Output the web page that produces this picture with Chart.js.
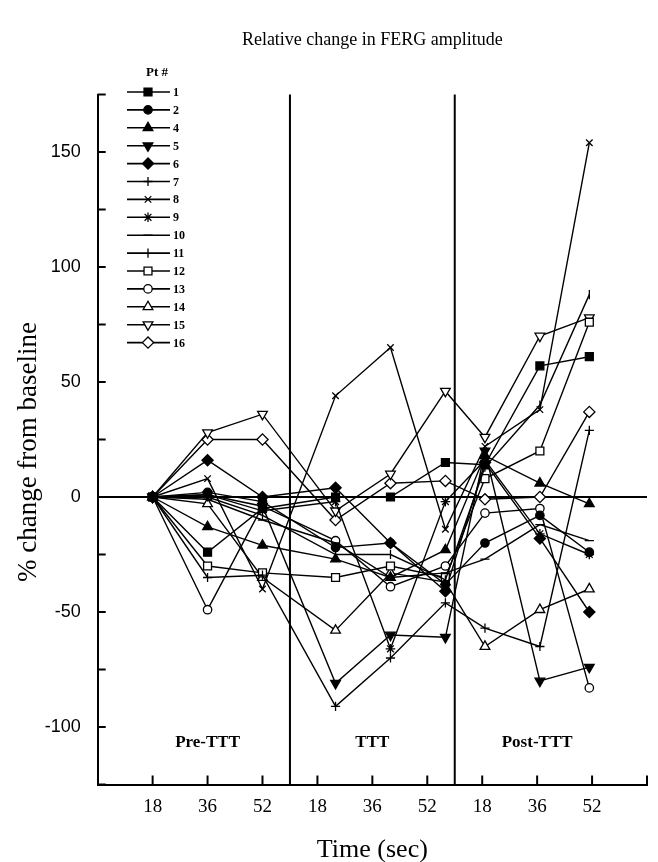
<!DOCTYPE html>
<html>
<head>
<meta charset="utf-8">
<script src="https://cdn.jsdelivr.net/npm/chart.js@4.4.0/dist/chart.umd.min.js"></script>
<style>
  html, body { margin: 0; padding: 0; background: #fff; }
  canvas { display: block; }
</style>
</head>
<body>
<canvas id="fergChart" width="658" height="862"></canvas>
<script>
// time axis: three samples in each period
const periods = ['Pre-TTT', 'TTT', 'Post-TTT'];
const timeLabels = ['18', '36', '52', '18', '36', '52', '18', '36', '52'];
const tickSlots = [1, 2, 3, 4, 5, 6, 7, 8, 9, 10];
const samplePos = [1, 2, 3, 4.33, 5.33, 6.33, 7.05, 8.05, 8.95]; // where the samples sit on the time axis
const periodBreaks = [3.5, 6.5];
const periodCentres = [2, 5, 8];
const yTicks = [-100, -50, 0, 50, 100, 150];

// % change from baseline, one array per patient
const patients = ['1', '2', '4', '5', '6', '7', '8', '9', '10', '11', '12', '13', '14', '15', '16'];
const pt1  = [0, -24,  -5,   0,   0,  15,  14,  57,  61];
const pt2  = [0,   2,  -2, -22, -20, -38, -20,  -8, -24];
const pt4  = [0, -13, -21, -27, -35, -23,  18,   6,  -3];
const pt5  = [0,   1,  -4, -81, -60, -61,  20, -80, -74];
const pt6  = [0,  16,   0,   4, -20, -41,  15, -18, -50];
const pt7  = [0, -35, -34, -91, -70, -46, -57, -65,  29];
const pt8  = [0,   8, -40,  44,  65, -14,  22,  38, 154];
const pt9  = [0,   1,  -6,  -2, -66,  -2,  16, -16, -25];
const pt10 = [0,  -1, -10, -20, -35, -33, -27, -12, -19];
const pt11 = [0,   0,  -8, -25, -25, -36,  13,  40,  88];
const pt12 = [0, -30, -33, -35, -30, -35,   8,  20,  76];
const pt13 = [0, -49,  -4, -19, -39, -30,  -7,  -5, -83];
const pt14 = [0,  -3, -35, -58, -33, -37, -65, -49, -40];
const pt15 = [0,  28,  36,  -6,  10,  46,  26,  70,  78];
const pt16 = [0,  25,  25, -10,   6,   7,  -1,   0,  37];
const series = [pt1, pt2, pt4, pt5, pt6, pt7, pt8, pt9, pt10, pt11, pt12, pt13, pt14, pt15, pt16];

// marker look for each patient
const markerStyle = ['rect', 'circle', 'triangle', 'triangle', 'rectRot', 'cross', 'crossRot', 'star',
                     'line', 'line', 'rect', 'circle', 'triangle', 'triangle', 'rectRot'];
const markerRot = [0, 0, 0, 180, 0, 0, 0, 0, 0, 90, 0, 0, 0, 180, 0];
const markerSolid = [true, true, true, true, true, false, false, false, false, false, false, false, false, false, false];
const markerSize = { rect: 5.6, circle: 4.2, triangle: 5.6, rectRot: 5.6, cross: 4.6, crossRot: 4.6, star: 4.8, line: 4.6 };

const serif = '"Liberation Serif", "Times New Roman", serif';

const datasets = series.map((vals, i) => ({
    label: patients[i],
    data: vals.map((v, j) => ({ x: samplePos[j], y: v })),
    borderColor: '#000',
    borderWidth: 1.4,
    pointStyle: markerStyle[i],
    pointRotation: markerRot[i],
    pointRadius: markerSize[markerStyle[i]],
    pointBorderWidth: 1.3,
    pointBorderColor: '#000',
    pointBackgroundColor: markerSolid[i] ? '#000' : '#fff',
    fill: false,
    tension: 0
}));

const framePlugin = {
    id: 'frame',
    beforeDatasetsDraw(chart) {
        const { ctx, chartArea: a, scales: { x, y } } = chart;
        ctx.save();
        ctx.strokeStyle = '#000';
        ctx.lineWidth = 2;
        // zero line
        const y0 = y.getPixelForValue(0);
        ctx.beginPath();
        ctx.moveTo(a.left, y0);
        ctx.lineTo(a.right, y0);
        ctx.stroke();
        // period dividers
        periodBreaks.forEach(b => {
            const px = x.getPixelForValue(b);
            ctx.beginPath();
            ctx.moveTo(px, a.top);
            ctx.lineTo(px, a.bottom);
            ctx.stroke();
        });
        // inward ticks
        for (let v = -125; v <= 175; v += 25) {
            const py = y.getPixelForValue(v);
            ctx.beginPath();
            ctx.moveTo(a.left, py);
            ctx.lineTo(a.left + 8, py);
            ctx.stroke();
        }
        tickSlots.forEach(t => {
            const px = x.getPixelForValue(t);
            ctx.beginPath();
            ctx.moveTo(px, a.bottom);
            ctx.lineTo(px, a.bottom - 9);
            ctx.stroke();
        });
        // period names
        ctx.fillStyle = '#000';
        ctx.font = 'bold 17px ' + serif;
        ctx.textAlign = 'center';
        ctx.textBaseline = 'middle';
        periods.forEach((p, i) => {
            ctx.fillText(p, x.getPixelForValue(periodCentres[i]), 743);
        });
        ctx.restore();
    },
    afterDraw(chart) {
        const { ctx, chartArea: a } = chart;
        ctx.save();
        ctx.fillStyle = '#000';
        ctx.textAlign = 'center';
        ctx.textBaseline = 'middle';
        // titles
        ctx.font = '18px ' + serif;
        ctx.fillText('Relative change in FERG amplitude', (a.left + a.right) / 2, 40);
        ctx.font = '26px ' + serif;
        ctx.fillText('Time (sec)', (a.left + a.right) / 2, 850);
        ctx.save();
        ctx.translate(29, 452);
        ctx.rotate(-Math.PI / 2);
        ctx.font = '27px ' + serif;
        ctx.fillText('% change from baseline', 0, 0);
        ctx.restore();

        // legend
        ctx.font = 'bold 13px ' + serif;
        ctx.fillText('Pt #', 157, 73);
        ctx.font = 'bold 12px ' + serif;
        ctx.textAlign = 'left';
        chart.data.datasets.forEach((ds, i) => {
            const ly = 92 + i * 17.9;
            ctx.strokeStyle = '#000';
            ctx.lineWidth = 1.6;
            ctx.beginPath();
            ctx.moveTo(127, ly);
            ctx.lineTo(170, ly);
            ctx.stroke();
            ctx.fillStyle = ds.pointBackgroundColor;
            ctx.lineWidth = 1.3;
            Chart.helpers.drawPoint(ctx, {
                pointStyle: ds.pointStyle,
                rotation: ds.pointRotation,
                radius: ds.pointRadius,
                borderWidth: 1.3
            }, 148, ly);
            ctx.fillStyle = '#000';
            ctx.fillText(ds.label, 173, ly + 1);
        });
        ctx.restore();
    }
};

new Chart(document.getElementById('fergChart'), {
    type: 'line',
    data: { datasets },
    options: {
        responsive: false,
        animation: false,
        devicePixelRatio: 1,
        layout: { padding: { top: 94.5, right: 7, left: 0, bottom: 0 } },
        plugins: { legend: { display: false }, tooltip: { enabled: false } },
        scales: {
            x: {
                type: 'linear',
                min: 0,
                max: 10,
                afterFit: s => { s.height = 77.5; },
                afterBuildTicks: s => { s.ticks = tickSlots.map(v => ({ value: v })); },
                ticks: {
                    autoSkip: false,
                    maxRotation: 0,
                    padding: 11,
                    color: '#000',
                    font: { family: serif, size: 19 },
                    callback: v => timeLabels[v - 1] || ''
                },
                grid: { display: false, drawTicks: false },
                border: { display: true, color: '#000', width: 2 }
            },
            y: {
                min: -125,
                max: 175,
                afterFit: s => { s.width = 97.7; },
                afterBuildTicks: s => { s.ticks = yTicks.map(v => ({ value: v })); },
                ticks: {
                    padding: 17,
                    color: '#000',
                    font: { family: '"Liberation Sans", Arial, sans-serif', size: 18 }
                },
                grid: { display: false, drawTicks: false },
                border: { display: true, color: '#000', width: 2 }
            }
        }
    },
    plugins: [framePlugin]
});
</script>
</body>
</html>
